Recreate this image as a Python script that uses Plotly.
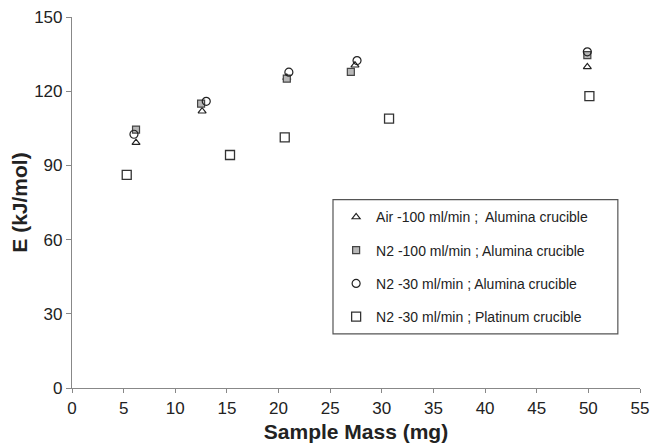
import plotly.graph_objects as go

# Data (Sample Mass mg, E kJ/mol)
air100_x = [6.2, 12.6, 20.8, 27.4, 49.9]
air100_y = [99.2, 111.9, 125.5, 130.5, 129.8]
n2_100_x = [6.2, 12.5, 20.8, 27.0, 49.9]
n2_100_y = [104.5, 115.0, 125.1, 127.8, 134.6]
n2_30_x = [6.0, 13.0, 21.0, 27.6, 49.9]
n2_30_y = [102.6, 115.9, 127.7, 132.4, 135.9]
pt_x = [5.3, 15.3, 20.6, 30.7, 50.1]
pt_y = [86.2, 94.2, 101.3, 108.9, 118.0]

names = [
    "Air -100 ml/min ;  Alumina crucible",
    "N2 -100 ml/min ; Alumina crucible",
    "N2 -30 ml/min ; Alumina crucible",
    "N2 -30 ml/min ; Platinum crucible",
]

font_family = "Liberation Sans, Arial, sans-serif"

fig = go.Figure()
fig.add_trace(go.Scatter(x=air100_x, y=air100_y, mode="markers", name=names[0],
                         legendgroup="a",
                         marker=dict(symbol="triangle-up-open", size=7,
                                     color="#222", line=dict(width=1.2, color="#222"))))
fig.add_trace(go.Scatter(x=n2_100_x, y=n2_100_y, mode="markers", name=names[1],
                         legendgroup="b",
                         marker=dict(symbol="square", size=7, color="#b8b8b8",
                                     line=dict(width=1.2, color="#444"))))
fig.add_trace(go.Scatter(x=n2_30_x, y=n2_30_y, mode="markers", name=names[2],
                         legendgroup="c",
                         marker=dict(symbol="circle-open", size=8,
                                     color="#222", line=dict(width=1.2, color="#222"))))
fig.add_trace(go.Scatter(x=pt_x, y=pt_y, mode="markers", name=names[3],
                         legendgroup="d",
                         marker=dict(symbol="square-open", size=9,
                                     color="#333", line=dict(width=1.3, color="#333"))))

# legend frame
fig.add_shape(type="rect", xref="paper", yref="paper",
              x0=0.4595, x1=0.961, y0=0.146, y1=0.508,
              line=dict(color="#555", width=1.2), fillcolor="rgba(0,0,0,0)")

fig.update_layout(
    width=657, height=445,
    margin=dict(l=72, r=17, t=17, b=57),
    paper_bgcolor="white", plot_bgcolor="white",
    font=dict(family=font_family, color="#222"),
    showlegend=True,
    legend=dict(x=0.465, y=0.503, xanchor="left", yanchor="top",
                bgcolor="rgba(0,0,0,0)", borderwidth=0,
                font=dict(size=14, color="#222", family=font_family),
                tracegroupgap=12, itemwidth=30),
    xaxis=dict(range=[0, 55], tick0=0, dtick=5, showgrid=False, zeroline=False,
               automargin=False,
               showline=True, linecolor="#888", linewidth=1.2,
               ticks="outside", ticklen=4, tickcolor="#888",
               tickfont=dict(size=17, color="#222"),
               title=dict(text="<b>Sample Mass (mg)</b>", font=dict(size=21, color="#222"),
                          standoff=7)),
    yaxis=dict(range=[0, 150], tick0=0, dtick=30, showgrid=False, zeroline=False,
               automargin=False,
               showline=True, linecolor="#888", linewidth=1.2,
               ticks="outside", ticklen=5, tickcolor="#888",
               tickfont=dict(size=17, color="#222"),
               title=dict(text="<b>E (kJ/mol)</b>", font=dict(size=21, color="#222"),
                          standoff=0)),
)

fig.write_html("out.html", config={"displayModeBar": False},
               post_script="document.body.style.margin='0';")
